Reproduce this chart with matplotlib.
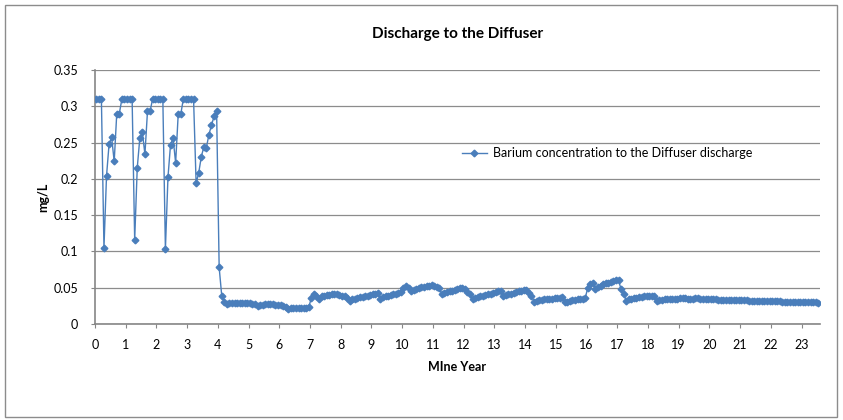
"""Discharge to the Diffuser: barium concentration by mine year"""

import matplotlib
matplotlib.use("Agg")
import matplotlib.pyplot as plt
import numpy as np
from matplotlib.patches import Rectangle
from matplotlib.ticker import FuncFormatter

plt.rcParams["font.family"] = ["Lato", "DejaVu Sans"]

# monthly values, one list per mine year (mg/L)
year_00 = [0.31, 0.31, 0.31, 0.105, 0.204, 0.248, 0.257, 0.224, 0.290, 0.290, 0.31, 0.31]
year_01 = [0.31, 0.31, 0.31, 0.116, 0.215, 0.256, 0.264, 0.234, 0.293, 0.293, 0.31, 0.31]
year_02 = [0.31, 0.31, 0.31, 0.103, 0.202, 0.247, 0.256, 0.222, 0.289, 0.289, 0.31, 0.31]
year_03 = [0.31, 0.31, 0.31, 0.194, 0.208, 0.230, 0.244, 0.243, 0.261, 0.274, 0.286, 0.294]
year_04 = [0.078, 0.039, 0.031, 0.028, 0.029, 0.029, 0.029, 0.029, 0.029, 0.029, 0.029, 0.029]
year_05 = [0.029, 0.028, 0.027, 0.025, 0.026, 0.026, 0.027, 0.027, 0.027, 0.027, 0.026, 0.026]
year_06 = [0.026, 0.025, 0.023, 0.021, 0.022, 0.022, 0.022, 0.022, 0.022, 0.022, 0.022, 0.023]
year_07 = [0.036, 0.041, 0.039, 0.035, 0.038, 0.039, 0.040, 0.040, 0.041, 0.041, 0.041, 0.040]
year_08 = [0.039, 0.038, 0.036, 0.032, 0.034, 0.035, 0.036, 0.037, 0.037, 0.038, 0.039, 0.040]
year_09 = [0.041, 0.042, 0.043, 0.035, 0.037, 0.038, 0.039, 0.040, 0.041, 0.042, 0.043, 0.044]
year_10 = [0.050, 0.053, 0.049, 0.045, 0.047, 0.048, 0.050, 0.051, 0.051, 0.052, 0.053, 0.054]
year_11 = [0.053, 0.051, 0.049, 0.041, 0.043, 0.044, 0.045, 0.046, 0.047, 0.048, 0.049, 0.050]
year_12 = [0.048, 0.044, 0.041, 0.034, 0.036, 0.037, 0.038, 0.039, 0.040, 0.041, 0.042, 0.043]
year_13 = [0.044, 0.045, 0.046, 0.038, 0.040, 0.041, 0.042, 0.043, 0.044, 0.045, 0.046, 0.047]
year_14 = [0.047, 0.043, 0.039, 0.031, 0.032, 0.033, 0.033, 0.034, 0.034, 0.035, 0.035, 0.036]
year_15 = [0.036, 0.036, 0.037, 0.030, 0.031, 0.032, 0.033, 0.033, 0.034, 0.034, 0.035, 0.036]
year_16 = [0.050, 0.055, 0.057, 0.048, 0.051, 0.053, 0.055, 0.056, 0.057, 0.058, 0.059, 0.061]
year_17 = [0.060, 0.048, 0.042, 0.032, 0.034, 0.035, 0.036, 0.036, 0.037, 0.037, 0.038, 0.038]
year_18 = [0.038, 0.039, 0.038, 0.032, 0.033, 0.033, 0.034, 0.034, 0.035, 0.035, 0.035, 0.035]
year_19 = [0.036, 0.036, 0.036, 0.035, 0.035, 0.035, 0.036, 0.036, 0.035, 0.035, 0.035, 0.035]
year_20 = [0.035, 0.035, 0.034, 0.033, 0.033, 0.033, 0.033, 0.033, 0.033, 0.033, 0.033, 0.033]
year_21 = [0.033, 0.033, 0.033, 0.032, 0.032, 0.032, 0.032, 0.032, 0.032, 0.032, 0.032, 0.032]
year_22 = [0.032, 0.032, 0.032, 0.032, 0.031, 0.031, 0.031, 0.031, 0.031, 0.031, 0.031, 0.031]
year_23 = [0.031, 0.030, 0.030, 0.030, 0.030, 0.030, 0.029]

years = [year_00, year_01, year_02, year_03, year_04, year_05, year_06, year_07,
         year_08, year_09, year_10, year_11, year_12, year_13, year_14, year_15,
         year_16, year_17, year_18, year_19, year_20, year_21, year_22, year_23]

series_label = "Barium concentration to the Diffuser discharge"
x_ticks = list(range(0, 24))
y_ticks = [0, 0.05, 0.1, 0.15, 0.2, 0.25, 0.3, 0.35]

# mid-month positions
xs, ys = [], []
for yr, vals in enumerate(years):
    for k, v in enumerate(vals):
        xs.append(yr + (k + 0.5) / 12)
        ys.append(v)
xs = np.array(xs)
ys = np.array(ys)

fig = plt.figure(figsize=(8.43, 4.2), dpi=100)
fig.patches.append(Rectangle((5 / 843, 3 / 420), 832 / 843, 412 / 420,
                             transform=fig.transFigure, fill=False,
                             edgecolor="#8c8c8c", linewidth=1.0))
ax = fig.add_axes([95 / 843, 96 / 420, 725 / 843, 254 / 420])

blue = "#4a7ebb"
ax.plot(xs, ys, color=blue, lw=1.0, marker="D", ms=3.4, mec=blue, mfc=blue,
        label=series_label, zorder=3)

ax.set_xlim(0, 23.6)
ax.set_ylim(0, 0.35)
ax.set_xticks(x_ticks)
ax.set_yticks(y_ticks)
ax.yaxis.set_major_formatter(FuncFormatter(lambda v, p: f"{v:g}"))
ax.grid(axis="y", color="#8c8c8c", lw=0.9)
ax.set_axisbelow(True)
for s in ("top", "right"):
    ax.spines[s].set_visible(False)
for s in ("left", "bottom"):
    ax.spines[s].set_color("#868686")
    ax.spines[s].set_linewidth(1.2)
ax.tick_params(axis="both", length=3, color="#868686", labelsize=9)
ax.tick_params(axis="x", pad=8)
ax.tick_params(axis="y", pad=9)

ax.set_title("Discharge to the Diffuser", fontsize=11, fontweight="bold", pad=23)
ax.set_xlabel("MIne Year", fontsize=9, fontweight="bold", labelpad=7)
ax.set_ylabel("mg/L", fontsize=9, fontweight="bold", labelpad=3)

ax.legend(loc="center left", bbox_to_anchor=(0.49, 0.673), frameon=False,
          fontsize=9, handlelength=2.0, handletextpad=0.5)

fig.savefig("out.png", dpi=100)
